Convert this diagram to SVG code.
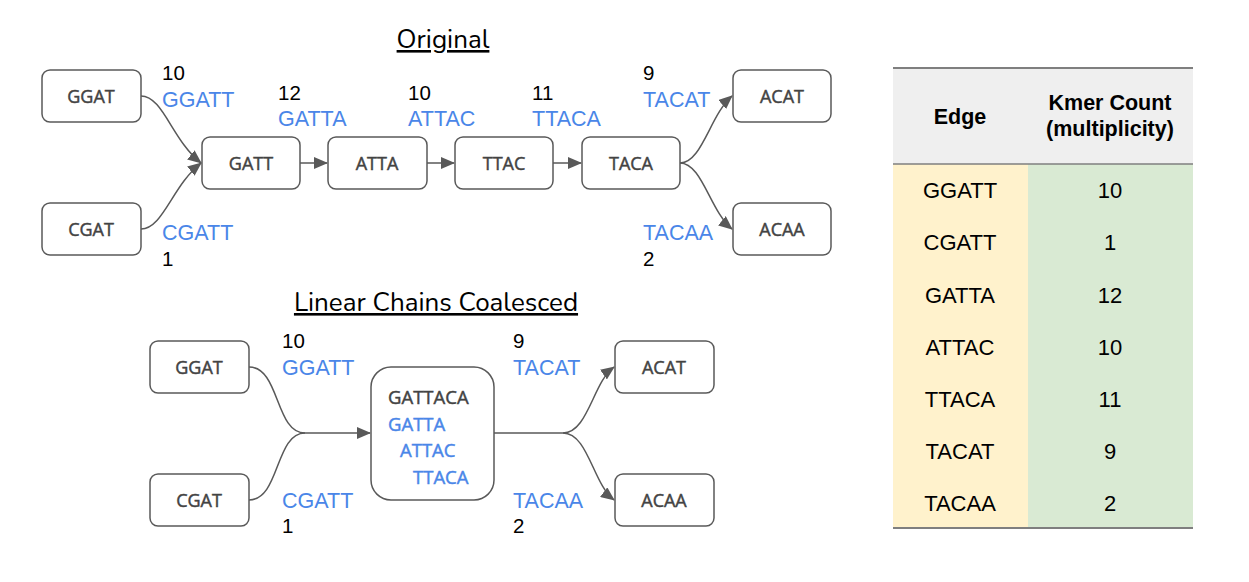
<svg xmlns="http://www.w3.org/2000/svg" width="1249" height="582" viewBox="0 0 1249 582">
<style>
.box{fill:#fff;stroke:#595959;stroke-width:1.5}
.nt{font-family:"Open Sans",sans-serif;font-size:18px;fill:#434343;stroke:#434343;stroke-width:0.45;text-anchor:middle}
.lb{font-family:"Liberation Sans",Arial,sans-serif;font-size:21.5px;fill:#4a86e8}
.num{font-family:"Liberation Sans",Arial,sans-serif;font-size:20.5px;fill:#000}
.ttl{font-family:"Nunito","Lato",sans-serif;font-size:26px;fill:#000;text-anchor:middle;text-decoration:underline}
.con{fill:none;stroke:#595959;stroke-width:1.5}
.th{font-family:"Liberation Sans",Arial,sans-serif;font-size:21.5px;font-weight:bold;fill:#000;text-anchor:middle}
.td{font-family:"Liberation Sans",Arial,sans-serif;font-size:22px;fill:#000;text-anchor:middle}
.mono{font-family:"Open Sans",sans-serif;font-size:18.5px;stroke-width:0.45}
</style>
<defs>
<marker id="ah" markerUnits="userSpaceOnUse" markerWidth="14" markerHeight="12" viewBox="0 0 14 12" refX="13" refY="6" orient="auto">
<path d="M0,0 L14,6 L0,12 Z" fill="#595959"/>
</marker>
</defs>
<rect width="1249" height="582" fill="#fff"/>

<text class="ttl" x="443" y="48">Original</text>
<text class="ttl" x="436" y="311">Linear Chains Coalesced</text>

<g id="connectors">
<path class="con" d="M141,96 C163,96 172,140 201,163" marker-end="url(#ah)"/>
<path class="con" d="M141,229 C163,229 172,186 201,163" marker-end="url(#ah)"/>
<path class="con" d="M300,163 L327,163" marker-end="url(#ah)"/>
<path class="con" d="M427,163 L454,163" marker-end="url(#ah)"/>
<path class="con" d="M553,163 L581,163" marker-end="url(#ah)"/>
<path class="con" d="M680,163 C702,163 710,115 732,96" marker-end="url(#ah)"/>
<path class="con" d="M680,163 C702,163 710,211 732,229" marker-end="url(#ah)"/>
<path class="con" d="M249,367 C280,367 275,433 305,433 L370,433" marker-end="url(#ah)"/>
<path class="con" d="M249,500 C280,500 275,433 305,433"/>
<path class="con" d="M494,433 L563,433 C588,433 593,382 614,367" marker-end="url(#ah)"/>
<path class="con" d="M563,433 C588,433 593,484 614,500" marker-end="url(#ah)"/>
</g>

<g id="labels">
<text class="num" x="162" y="80">10</text><text class="lb" x="162" y="107">GGATT</text>
<text class="num" x="278" y="100">12</text><text class="lb" x="278" y="126">GATTA</text>
<text class="num" x="408" y="100">10</text><text class="lb" x="408" y="126">ATTAC</text>
<text class="num" x="532" y="100">11</text><text class="lb" x="532" y="126">TTACA</text>
<text class="num" x="643" y="80">9</text><text class="lb" x="643" y="107">TACAT</text>
<text class="lb" x="162" y="240">CGATT</text><text class="num" x="162" y="266">1</text>
<text class="lb" x="643" y="240">TACAA</text><text class="num" x="643" y="266">2</text>
<text class="num" x="282" y="348">10</text><text class="lb" x="282" y="375">GGATT</text>
<text class="num" x="513" y="348">9</text><text class="lb" x="513" y="375">TACAT</text>
<text class="lb" x="282" y="508">CGATT</text><text class="num" x="282" y="533">1</text>
<text class="lb" x="513" y="508">TACAA</text><text class="num" x="513" y="533">2</text>
</g>

<g id="n-ggat"><rect class="box" x="42" y="70" width="99" height="52" rx="8"/><text class="nt" x="91" y="103">GGAT</text></g>
<g id="n-cgat"><rect class="box" x="42" y="203" width="99" height="52" rx="8"/><text class="nt" x="91" y="236">CGAT</text></g>
<g id="n-gatt"><rect class="box" x="202" y="137" width="98" height="52" rx="8"/><text class="nt" x="251" y="170">GATT</text></g>
<g id="n-atta"><rect class="box" x="328" y="137" width="99" height="52" rx="8"/><text class="nt" x="377" y="170">ATTA</text></g>
<g id="n-ttac"><rect class="box" x="455" y="137" width="98" height="52" rx="8"/><text class="nt" x="504" y="170">TTAC</text></g>
<g id="n-taca"><rect class="box" x="582" y="137" width="98" height="52" rx="8"/><text class="nt" x="631" y="170">TACA</text></g>
<g id="n-acat"><rect class="box" x="733" y="70" width="98" height="52" rx="8"/><text class="nt" x="782" y="103">ACAT</text></g>
<g id="n-acaa"><rect class="box" x="733" y="203" width="98" height="52" rx="8"/><text class="nt" x="782" y="236">ACAA</text></g>

<g id="n2-ggat"><rect class="box" x="150" y="341" width="99" height="52" rx="8"/><text class="nt" x="199" y="374">GGAT</text></g>
<g id="n2-cgat"><rect class="box" x="150" y="474" width="99" height="52" rx="8"/><text class="nt" x="199" y="507">CGAT</text></g>
<g id="n2-gattaca"><rect class="box" x="371" y="367" width="123" height="133" rx="20"/>
<text class="mono" x="388" y="404" fill="#434343" stroke="#434343">GATTACA</text>
<text class="mono" x="388" y="431" fill="#4a86e8" stroke="#4a86e8">GATTA</text>
<text class="mono" x="400" y="457" fill="#4a86e8" stroke="#4a86e8">ATTAC</text>
<text class="mono" x="413" y="484" fill="#4a86e8" stroke="#4a86e8">TTACA</text>
</g>
<g id="n2-acat"><rect class="box" x="615" y="341" width="99" height="52" rx="8"/><text class="nt" x="664" y="374">ACAT</text></g>
<g id="n2-acaa"><rect class="box" x="615" y="474" width="99" height="52" rx="8"/><text class="nt" x="664" y="507">ACAA</text></g>

<g id="table">
<rect x="893" y="68" width="300" height="96" fill="#efefef"/>
<rect x="893" y="164" width="135" height="364" fill="#fff2cc"/>
<rect x="1028" y="164" width="165" height="364" fill="#d9ead3"/>
<line x1="893" y1="68" x2="1193" y2="68" stroke="#7f7f7f" stroke-width="2"/>
<line x1="893" y1="164" x2="1193" y2="164" stroke="#7f7f7f" stroke-width="1.5"/>
<line x1="893" y1="528" x2="1193" y2="528" stroke="#7f7f7f" stroke-width="2"/>
<text class="th" x="960" y="124">Edge</text>
<text class="th" x="1110" y="110">Kmer Count</text>
<text class="th" x="1110" y="136">(multiplicity)</text>
<text class="td" x="960" y="198">GGATT</text><text class="td" x="1110" y="198">10</text>
<text class="td" x="960" y="250">CGATT</text><text class="td" x="1110" y="250">1</text>
<text class="td" x="960" y="303">GATTA</text><text class="td" x="1110" y="303">12</text>
<text class="td" x="960" y="355">ATTAC</text><text class="td" x="1110" y="355">10</text>
<text class="td" x="960" y="407">TTACA</text><text class="td" x="1110" y="407">11</text>
<text class="td" x="960" y="459">TACAT</text><text class="td" x="1110" y="459">9</text>
<text class="td" x="960" y="511">TACAA</text><text class="td" x="1110" y="511">2</text>
</g>
</svg>
